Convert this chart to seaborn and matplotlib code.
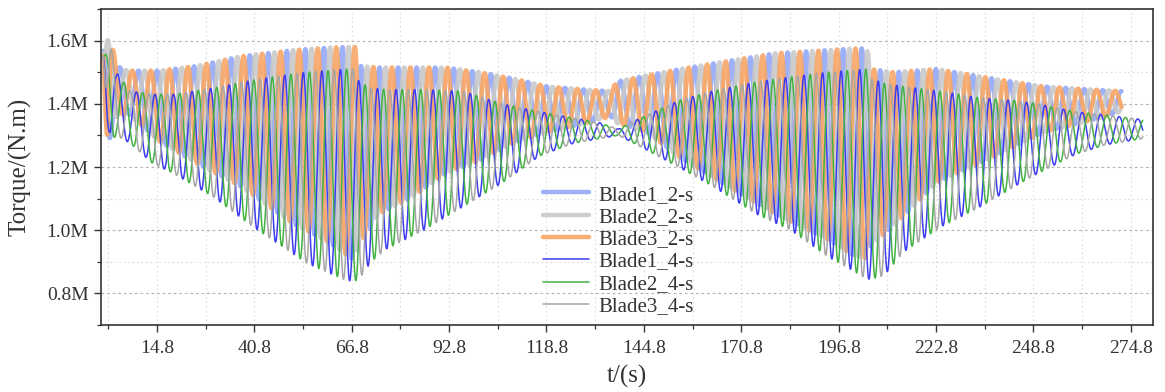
import numpy as np
import pandas as pd
import matplotlib
matplotlib.use("Agg")
import matplotlib.pyplot as plt
from matplotlib.ticker import FixedLocator, FuncFormatter, MultipleLocator
import seaborn as sns

# ---- envelope knots of the blade root torque (MN.m) ----
# two-second configuration
t_knots_2s = [0.5, 1.5, 2.5, 4.0, 7.0, 15.7, 25.6, 37.0, 51.3, 61.0, 66.8, 67.8,
              68.8, 74.0, 83.0, 92.0, 101.0, 110.0, 119.0, 129.5, 136.0, 137.5,
              145.6, 154.4, 167.0, 180.0, 194.0, 200.7, 204.4, 205.4, 211.4,
              223.0, 238.0, 251.4, 264.7, 272.3]
upper_2s = [1.57, 1.60, 1.61, 1.52, 1.505, 1.505, 1.52, 1.55, 1.57, 1.578, 1.58, 1.58,
            1.52, 1.515, 1.515, 1.515, 1.50, 1.48, 1.455, 1.445, 1.44, 1.47,
            1.49, 1.51, 1.535, 1.56, 1.57, 1.575, 1.575, 1.51, 1.50,
            1.51, 1.48, 1.455, 1.445, 1.44]
lower_2s = [1.55, 1.24, 1.30, 1.36, 1.37, 1.28, 1.21, 1.14, 1.02, 0.96, 0.91, 0.91,
            0.95, 1.05, 1.105, 1.18, 1.22, 1.275, 1.31, 1.34, 1.36, 1.34,
            1.31, 1.23, 1.14, 1.05, 0.97, 0.92, 0.91, 0.95, 1.01,
            1.15, 1.23, 1.31, 1.35, 1.375]

# four-second configuration
t_knots_4s = [0.5, 1.5, 2.5, 4.0, 7.7, 13.8, 19.2, 29.9, 40.5, 48.6, 54.9, 65.5,
              67.8, 68.8, 72.0, 76.0, 86.0, 96.6, 107.0, 117.0, 126.0, 133.0, 138.0,
              143.0, 154.0, 163.0, 175.0, 184.0, 194.0, 199.0, 204.4, 205.4, 209.0,
              214.0, 224.0, 234.0, 244.0, 250.0, 260.0, 268.0, 278.0]
upper_4s = [1.55, 1.56, 1.58, 1.50, 1.44, 1.43, 1.43, 1.45, 1.475, 1.49, 1.50, 1.51,
            1.51, 1.47, 1.45, 1.445, 1.445, 1.44, 1.40, 1.375, 1.355, 1.34, 1.32,
            1.35, 1.41, 1.44, 1.47, 1.485, 1.50, 1.505, 1.51, 1.48, 1.465,
            1.455, 1.44, 1.42, 1.41, 1.40, 1.375, 1.365, 1.35]
lower_4s = [1.55, 1.35, 1.28, 1.30, 1.275, 1.21, 1.18, 1.105, 1.01, 0.946, 0.895, 0.84,
            0.84, 0.845, 0.90, 0.94, 1.00, 1.075, 1.15, 1.235, 1.275, 1.29, 1.30,
            1.27, 1.20, 1.14, 1.05, 1.00, 0.915, 0.883, 0.845, 0.845, 0.857,
            0.93, 1.01, 1.07, 1.14, 1.18, 1.24, 1.27, 1.29]

rotor_period_s = 4.95
t_end_2s = 272.3
t_end_4s = 278.0
blade_phase_deg = [0.0, -120.0, -240.0]

series_2s = ["Blade1_2-s", "Blade2_2-s", "Blade3_2-s"]
series_4s = ["Blade1_4-s", "Blade2_4-s", "Blade3_4-s"]

x_major_ticks = [14.8, 40.8, 66.8, 92.8, 118.8, 144.8, 170.8, 196.8, 222.8, 248.8, 274.8]
x_minor_ticks = [1.8, 27.8, 53.8, 79.8, 105.8, 131.8, 157.8, 183.8, 209.8, 235.8, 261.8]
y_major_ticks = [0.8, 1.0, 1.2, 1.4, 1.6]


def blade_torque(t, knots, upper, lower, phase_deg):
    up = np.interp(t, knots, upper)
    lo = np.interp(t, knots, lower)
    mid = 0.5 * (up + lo)
    amp = 0.5 * (up - lo)
    return (mid + amp * np.cos(2 * np.pi * t / rotor_period_s + np.deg2rad(phase_deg))) * 1e6


frames = []
t2 = np.arange(0.5, t_end_2s, 0.02)
t4 = np.arange(0.5, t_end_4s, 0.02)
for name, ph in zip(series_2s, blade_phase_deg):
    frames.append(pd.DataFrame({"t": t2, "torque": blade_torque(t2, t_knots_2s, upper_2s, lower_2s, ph), "series": name}))
for name, ph in zip(series_4s, blade_phase_deg):
    frames.append(pd.DataFrame({"t": t4, "torque": blade_torque(t4, t_knots_4s, upper_4s, lower_4s, ph + 40.0), "series": name}))
df = pd.concat(frames, ignore_index=True)

# ---- styling ----
sns.set_style("white")
plt.rcParams["font.family"] = ["Liberation Serif", "DejaVu Serif"]

styles = {
    "Blade1_2-s": dict(color="#93a8f8", lw=3.2, alpha=0.9),
    "Blade2_2-s": dict(color="#c9c9c9", lw=3.2, alpha=0.9),
    "Blade3_2-s": dict(color="#f8a566", lw=3.2, alpha=0.9),
    "Blade1_4-s": dict(color="#3c3cf2", lw=1.1, alpha=1.0),
    "Blade2_4-s": dict(color="#42b242", lw=1.1, alpha=1.0),
    "Blade3_4-s": dict(color="#a6a6a6", lw=1.1, alpha=1.0),
}

fig = plt.figure(figsize=(11.65, 3.92), dpi=100)
ax = fig.add_axes([101 / 1165, 67 / 392, 1052 / 1165, 316 / 392])

for name in series_2s + series_4s:
    sub = df[df["series"] == name]
    st = styles[name]
    sns.lineplot(x=sub["t"].to_numpy(), y=sub["torque"].to_numpy(), ax=ax,
                 color=st["color"], linewidth=st["lw"], alpha=st["alpha"],
                 estimator=None, sort=False, label=name)

ax.set_xlim(-0.1, 280.7)
ax.set_ylim(0.7e6, 1.7e6)

ax.xaxis.set_major_locator(FixedLocator(x_major_ticks))
ax.xaxis.set_minor_locator(FixedLocator(x_minor_ticks))
ax.xaxis.set_major_formatter(FuncFormatter(lambda v, p: f"{v:.1f}"))
ax.yaxis.set_major_locator(FixedLocator([v * 1e6 for v in y_major_ticks]))
ax.yaxis.set_minor_locator(MultipleLocator(0.1e6))
ax.yaxis.set_major_formatter(FuncFormatter(lambda v, p: f"{v / 1e6:.1f}M"))

ax.tick_params(axis="both", which="both", bottom=True, left=True, top=False, right=False)
ax.tick_params(axis="both", which="major", direction="out", length=5, width=1.0,
               colors="#333333", labelsize=14, labelcolor="#333333")
ax.tick_params(axis="x", which="major", pad=6)
ax.tick_params(axis="y", which="major", pad=4)
ax.tick_params(axis="both", which="minor", direction="out", length=3, width=0.9, colors="#333333")

ax.grid(which="major", axis="y", linestyle=(0, (2.5, 2.5)), color="#b4b4b4", linewidth=0.8)
ax.grid(which="minor", axis="y", linestyle=(0, (1.5, 2.5)), color="#dcdcdc", linewidth=0.8)
ax.grid(which="both", axis="x", linestyle=(0, (1.5, 2.5)), color="#dcdcdc", linewidth=0.8)
ax.set_axisbelow(True)

for sp in ax.spines.values():
    sp.set_color("#333333")
    sp.set_linewidth(1.2)

ax.set_xlabel("t/(s)", fontsize=18, color="#333333")
ax.set_ylabel("Torque/(N.m)", fontsize=18, color="#333333")
ax.xaxis.set_label_coords(0.5, -0.125)
ax.yaxis.set_label_coords(-0.066, 0.5)

ax.legend(loc="lower left", bbox_to_anchor=(0.42, 0.028), frameon=False,
          fontsize=15, handlelength=2.2, handletextpad=0.45, labelspacing=0.13,
          borderpad=0, borderaxespad=0)
leg = ax.get_legend()
for txt in leg.get_texts():
    txt.set_color("#333333")

fig.savefig("out.png", dpi=100, facecolor="white")
